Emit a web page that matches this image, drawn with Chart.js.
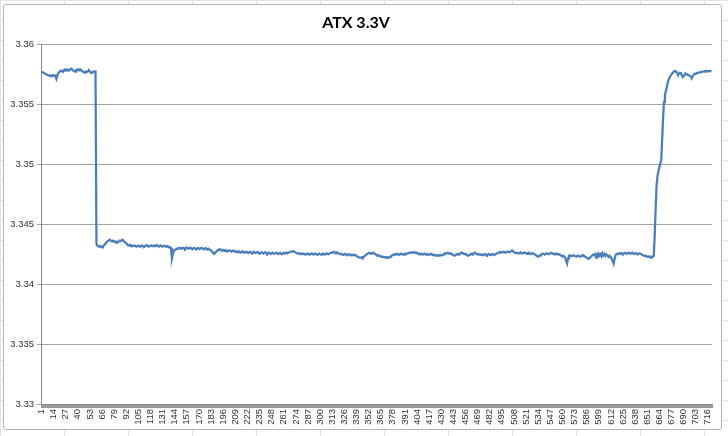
<!DOCTYPE html>
<html>
<head>
<meta charset="utf-8">
<script src="https://cdn.jsdelivr.net/npm/chart.js@4"></script>
<style>
  html, body { margin: 0; padding: 0; }
  body {
    width: 728px; height: 436px; overflow: hidden; position: relative;
    background-color: #fff;
    background-image:
      linear-gradient(to right, #e2e2e2 1px, transparent 1px),
      linear-gradient(to bottom, #e2e2e2 1px, transparent 1px);
    background-size: 64px 20px;
  }
  #frame {
    position: absolute; left: 3px; top: 4px; width: 717px; height: 424px;
    background: #fff; border: 1px solid #b4b4b4; border-radius: 3px;
  }
  #wrap { position: absolute; left: 0; top: 0; width: 728px; height: 436px; }
</style>
</head>
<body>
<div id="frame"></div>
<div id="wrap"><canvas id="voltChart"></canvas></div>
<script>
// ATX 3.3V rail readings (volts), one per sample
const voltage = [
    3.35770, 3.35768, 3.35762, 3.35760, 3.35752, 3.35748, 3.35745, 3.35742, 3.35740, 3.35735,
    3.35738, 3.35732, 3.35740, 3.35742, 3.35735, 3.35738, 3.35712, 3.35738, 3.35758, 3.35768,
    3.35772, 3.35780, 3.35776, 3.35770, 3.35782, 3.35788, 3.35780, 3.35790, 3.35785, 3.35778,
    3.35788, 3.35792, 3.35796, 3.35788, 3.35780, 3.35778, 3.35772, 3.35780, 3.35788, 3.35782,
    3.35790, 3.35782, 3.35788, 3.35780, 3.35772, 3.35770, 3.35762, 3.35770, 3.35765, 3.35772,
    3.35775, 3.35780, 3.35772, 3.35762, 3.35760, 3.35768, 3.35772, 3.35770, 3.35772, 3.34335,
    3.34320, 3.34315, 3.34312, 3.34318, 3.34310, 3.34305, 3.34315, 3.34322, 3.34330, 3.34340,
    3.34350, 3.34358, 3.34362, 3.34370, 3.34365, 3.34360, 3.34355, 3.34362, 3.34358, 3.34350,
    3.34345, 3.34352, 3.34348, 3.34355, 3.34362, 3.34358, 3.34365, 3.34370, 3.34362, 3.34352,
    3.34345, 3.34340, 3.34330, 3.34322, 3.34325, 3.34318, 3.34322, 3.34315, 3.34320, 3.34318,
    3.34322, 3.34315, 3.34312, 3.34318, 3.34320, 3.34315, 3.34310, 3.34318, 3.34322, 3.34315,
    3.34312, 3.34318, 3.34320, 3.34325, 3.34318, 3.34312, 3.34315, 3.34320, 3.34322, 3.34315,
    3.34318, 3.34322, 3.34315, 3.34320, 3.34325, 3.34318, 3.34312, 3.34318, 3.34322, 3.34315,
    3.34312, 3.34318, 3.34320, 3.34315, 3.34310, 3.34318, 3.34312, 3.34305, 3.34308, 3.34300,
    3.34215, 3.34250, 3.34275, 3.34285, 3.34288, 3.34295, 3.34292, 3.34298, 3.34302, 3.34295,
    3.34300, 3.34296, 3.34302, 3.34298, 3.34292, 3.34300, 3.34305, 3.34298, 3.34295, 3.34300,
    3.34302, 3.34296, 3.34290, 3.34298, 3.34302, 3.34295, 3.34288, 3.34295, 3.34300, 3.34296,
    3.34292, 3.34298, 3.34302, 3.34295, 3.34290, 3.34296, 3.34300, 3.34292, 3.34288, 3.34295,
    3.34290, 3.34285, 3.34280, 3.34272, 3.34262, 3.34258, 3.34255, 3.34265, 3.34275, 3.34282,
    3.34288, 3.34285, 3.34290, 3.34282, 3.34278, 3.34285, 3.34280, 3.34275, 3.34282, 3.34278,
    3.34272, 3.34278, 3.34282, 3.34275, 3.34270, 3.34276, 3.34280, 3.34272, 3.34268, 3.34275,
    3.34270, 3.34265, 3.34272, 3.34268, 3.34262, 3.34268, 3.34272, 3.34265, 3.34260, 3.34266,
    3.34270, 3.34262, 3.34258, 3.34265, 3.34268, 3.34260, 3.34255, 3.34262, 3.34268, 3.34262,
    3.34258, 3.34264, 3.34268, 3.34260, 3.34252, 3.34258, 3.34265, 3.34260, 3.34255, 3.34262,
    3.34266, 3.34258, 3.34252, 3.34258, 3.34262, 3.34256, 3.34250, 3.34258, 3.34262, 3.34255,
    3.34252, 3.34258, 3.34262, 3.34256, 3.34250, 3.34255, 3.34260, 3.34254, 3.34250, 3.34256,
    3.34260, 3.34254, 3.34258, 3.34262, 3.34256, 3.34260, 3.34265, 3.34268, 3.34272, 3.34270,
    3.34275, 3.34272, 3.34268, 3.34262, 3.34258, 3.34255, 3.34252, 3.34256, 3.34250, 3.34254,
    3.34250, 3.34255, 3.34250, 3.34245, 3.34252, 3.34248, 3.34254, 3.34250, 3.34246, 3.34252,
    3.34256, 3.34250, 3.34246, 3.34252, 3.34255, 3.34248, 3.34244, 3.34250, 3.34254, 3.34248,
    3.34245, 3.34250, 3.34255, 3.34250, 3.34246, 3.34252, 3.34256, 3.34250, 3.34248, 3.34255,
    3.34258, 3.34262, 3.34266, 3.34262, 3.34268, 3.34264, 3.34260, 3.34265, 3.34260, 3.34255,
    3.34252, 3.34248, 3.34252, 3.34246, 3.34242, 3.34248, 3.34252, 3.34245, 3.34240, 3.34246,
    3.34250, 3.34244, 3.34240, 3.34246, 3.34242, 3.34238, 3.34244, 3.34240, 3.34235, 3.34230,
    3.34226, 3.34222, 3.34218, 3.34222, 3.34225, 3.34220, 3.34228, 3.34235, 3.34242, 3.34248,
    3.34252, 3.34256, 3.34260, 3.34256, 3.34252, 3.34258, 3.34262, 3.34256, 3.34250, 3.34246,
    3.34240, 3.34235, 3.34240, 3.34236, 3.34230, 3.34226, 3.34230, 3.34225, 3.34222, 3.34226,
    3.34220, 3.34225, 3.34218, 3.34222, 3.34226, 3.34232, 3.34238, 3.34242, 3.34248, 3.34245,
    3.34250, 3.34246, 3.34252, 3.34248, 3.34244, 3.34250, 3.34254, 3.34248, 3.34245, 3.34250,
    3.34254, 3.34248, 3.34252, 3.34256, 3.34260, 3.34258, 3.34262, 3.34265, 3.34260, 3.34264,
    3.34268, 3.34262, 3.34258, 3.34262, 3.34255, 3.34250, 3.34254, 3.34248, 3.34252, 3.34246,
    3.34250, 3.34254, 3.34248, 3.34244, 3.34250, 3.34246, 3.34242, 3.34248, 3.34252, 3.34246,
    3.34242, 3.34246, 3.34240, 3.34236, 3.34242, 3.34238, 3.34234, 3.34240, 3.34244, 3.34238,
    3.34240, 3.34245, 3.34250, 3.34255, 3.34252, 3.34258, 3.34262, 3.34256, 3.34252, 3.34258,
    3.34252, 3.34246, 3.34240, 3.34236, 3.34240, 3.34246, 3.34250, 3.34246, 3.34250, 3.34255,
    3.34258, 3.34262, 3.34256, 3.34252, 3.34248, 3.34252, 3.34246, 3.34240, 3.34236, 3.34240,
    3.34245, 3.34250, 3.34254, 3.34250, 3.34256, 3.34262, 3.34256, 3.34250, 3.34246, 3.34250,
    3.34246, 3.34242, 3.34248, 3.34244, 3.34240, 3.34246, 3.34250, 3.34244, 3.34240, 3.34246,
    3.34250, 3.34244, 3.34240, 3.34246, 3.34250, 3.34246, 3.34242, 3.34248, 3.34252, 3.34256,
    3.34260, 3.34262, 3.34266, 3.34262, 3.34268, 3.34265, 3.34270, 3.34266, 3.34262, 3.34268,
    3.34272, 3.34268, 3.34265, 3.34270, 3.34276, 3.34280, 3.34274, 3.34268, 3.34262, 3.34258,
    3.34262, 3.34258, 3.34254, 3.34260, 3.34264, 3.34258, 3.34255, 3.34260, 3.34264, 3.34260,
    3.34256, 3.34252, 3.34258, 3.34262, 3.34256, 3.34250, 3.34254, 3.34258, 3.34252, 3.34248,
    3.34244, 3.34238, 3.34232, 3.34228, 3.34234, 3.34240, 3.34246, 3.34250, 3.34254, 3.34250,
    3.34246, 3.34252, 3.34256, 3.34252, 3.34248, 3.34252, 3.34256, 3.34260, 3.34256, 3.34252,
    3.34248, 3.34252, 3.34256, 3.34250, 3.34246, 3.34250, 3.34246, 3.34240, 3.34236, 3.34230,
    3.34236, 3.34230, 3.34218, 3.34195, 3.34172, 3.34215, 3.34236, 3.34240, 3.34236, 3.34232,
    3.34236, 3.34240, 3.34236, 3.34232, 3.34228, 3.34234, 3.34238, 3.34232, 3.34228, 3.34234,
    3.34238, 3.34242, 3.34236, 3.34230, 3.34226, 3.34220, 3.34214, 3.34210, 3.34216, 3.34224,
    3.34232, 3.34240, 3.34246, 3.34240, 3.34250, 3.34236, 3.34248, 3.34230, 3.34252, 3.34238,
    3.34250, 3.34232, 3.34256, 3.34240, 3.34250, 3.34236, 3.34248, 3.34240, 3.34232, 3.34224,
    3.34232, 3.34225, 3.34210, 3.34190, 3.34170, 3.34210, 3.34240, 3.34250, 3.34254, 3.34250,
    3.34256, 3.34252, 3.34258, 3.34254, 3.34250, 3.34256, 3.34260, 3.34256, 3.34252, 3.34258,
    3.34262, 3.34256, 3.34252, 3.34258, 3.34262, 3.34256, 3.34250, 3.34254, 3.34258, 3.34252,
    3.34248, 3.34252, 3.34256, 3.34250, 3.34246, 3.34242, 3.34238, 3.34234, 3.34238, 3.34232,
    3.34228, 3.34232, 3.34226, 3.34230, 3.34224, 3.34228, 3.34226, 3.34236, 3.34400, 3.34620,
    3.34820, 3.34900, 3.34940, 3.34975, 3.35005, 3.35035, 3.35200, 3.35380, 3.35520, 3.35580,
    3.35610, 3.35640, 3.35680, 3.35705, 3.35725, 3.35738, 3.35748, 3.35758, 3.35768, 3.35774,
    3.35778, 3.35772, 3.35760, 3.35748, 3.35752, 3.35762, 3.35760, 3.35740, 3.35726, 3.35732,
    3.35748, 3.35756, 3.35752, 3.35744, 3.35740, 3.35742, 3.35735, 3.35726, 3.35722, 3.35735,
    3.35748, 3.35754, 3.35752, 3.35758, 3.35762, 3.35760, 3.35765, 3.35768, 3.35766, 3.35770,
    3.35772, 3.35775, 3.35772, 3.35776, 3.35778, 3.35776, 3.35774, 3.35778, 3.35776, 3.35775
];

// sample numbers 1..N, every 13th one is labelled
const sampleNumbers = voltage.map((v, i) => String(i + 1));
const labelEvery = 13;

const yMin = 3.33;
const yMax = 3.36;
const yStep = 0.005;

const gridGrey = '#a3a3a3';
const axisGrey = '#8a8a8a';
const textColor = '#333333';

const ctx = document.getElementById('voltChart').getContext('2d');
new Chart(ctx, {
    type: 'line',
    data: {
        labels: sampleNumbers,
        datasets: [{
            label: 'ATX 3.3V',
            data: voltage,
            borderColor: '#4a7ebb',
            borderWidth: 2.25,
            pointRadius: 0,
            fill: false,
            tension: 0
        }]
    },
    options: {
        responsive: true,
        maintainAspectRatio: false,
        animation: false,
        layout: { padding: { left: 0, right: 16, top: 0, bottom: 0 } },
        plugins: {
            legend: { display: false },
            tooltip: { enabled: false },
            title: {
                display: true,
                text: 'ATX 3.3V',
                color: '#000',
                font: { family: 'Lato', size: 16, weight: 'bold', lineHeight: 1.2 },
                padding: { top: 13, bottom: 12 }
            }
        },
        scales: {
            x: {
                type: 'category',
                offset: true,
                grid: {
                    offset: true,
                    drawOnChartArea: false,
                    tickLength: 4,
                    color: '#9a9a9a'
                },
                border: { display: true, color: axisGrey },
                ticks: {
                    autoSkip: false,
                    maxRotation: 90,
                    minRotation: 90,
                    padding: 1,
                    color: textColor,
                    font: { family: 'Liberation Sans', size: 9.5 },
                    callback: function (value, index) {
                        return index % labelEvery === 0 ? this.getLabelForValue(value) : '';
                    }
                },
                afterFit: scale => { scale.height = 32; }
            },
            y: {
                min: yMin,
                max: yMax,
                grid: { color: gridGrey, tickLength: 4 },
                border: { display: true, color: axisGrey },
                ticks: {
                    stepSize: yStep,
                    padding: 3,
                    color: textColor,
                    font: { family: 'Liberation Sans', size: 9.5 },
                    callback: v => String(+v.toFixed(3))
                },
                afterFit: scale => { scale.width = 41; }
            }
        }
    }
});
</script>
</body>
</html>
